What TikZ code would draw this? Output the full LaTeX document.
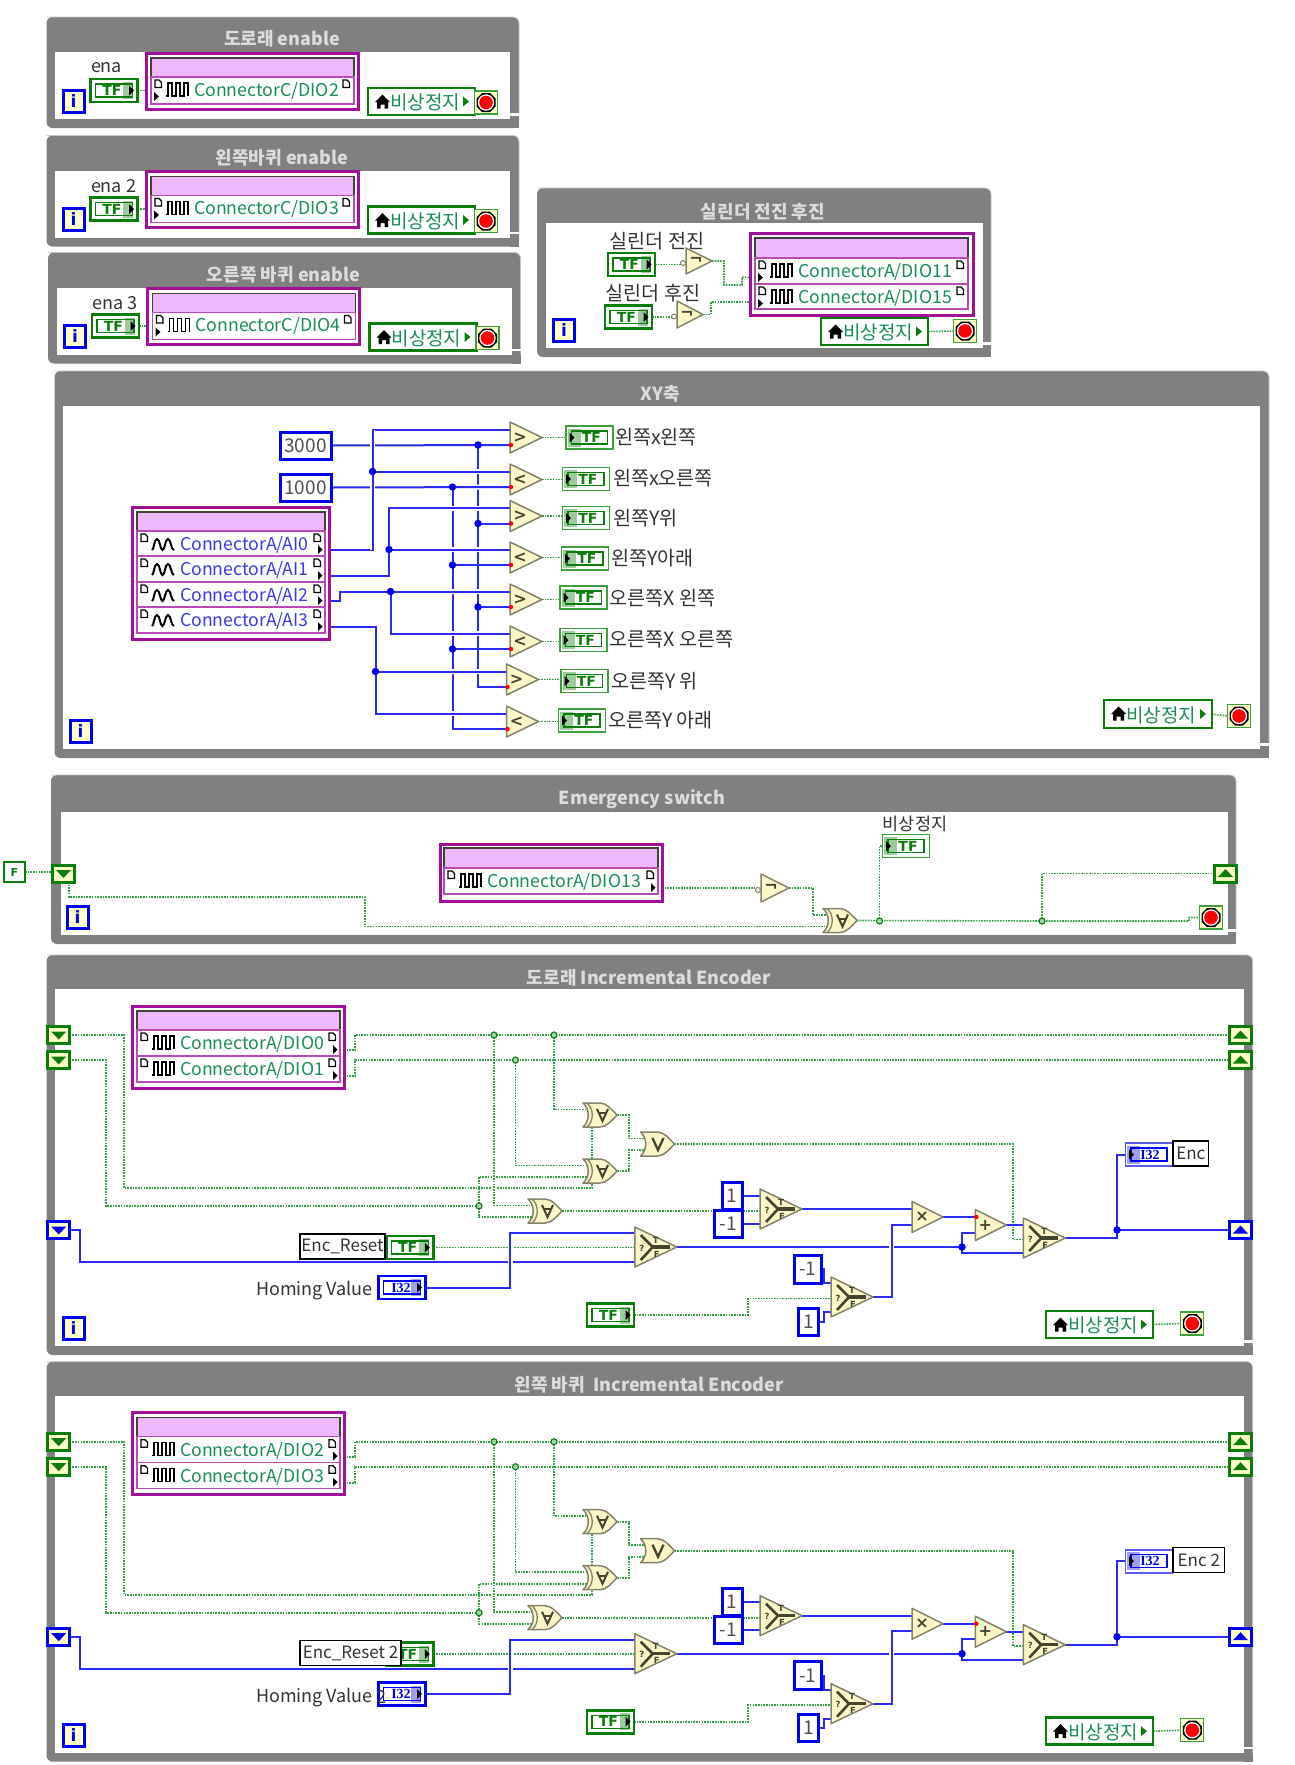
\documentclass[tikz,border=0pt]{standalone}
\usepackage{fontspec}
\setmainfont{Noto Sans CJK KR}
\newfontfamily\boldf{DejaVu Sans}
\newfontfamily\serff{Liberation Serif}
\pgfdeclarelayer{bg}\pgfdeclarelayer{wire}\pgfsetlayers{bg,wire,main}
\definecolor{framegray}{HTML}{808080}
\definecolor{framelight}{HTML}{C4C4C4}
\definecolor{ttlc}{HTML}{DCDCDC}
\definecolor{wireb}{HTML}{2A2AF0}
\definecolor{wireg}{HTML}{35A045}
\definecolor{tfg}{HTML}{0A7D0A}
\definecolor{tfl}{HTML}{3F9F3F}
\definecolor{tfs}{HTML}{9CCB9C}
\definecolor{ibl}{HTML}{0000F0}
\definecolor{ibs}{HTML}{A0A0F0}
\definecolor{paley}{HTML}{FFFFC8}
\definecolor{gatef}{HTML}{FBF6C8}
\definecolor{gatee}{HTML}{85826A}
\definecolor{glyph}{HTML}{45452F}
\definecolor{purp}{HTML}{A0109A}
\definecolor{purl}{HTML}{B84AB8}
\definecolor{pink}{HTML}{EFB8FC}
\definecolor{digt}{HTML}{1A8C5A}
\definecolor{anat}{HTML}{3A3AE6}
\definecolor{cstt}{HTML}{505050}
\newcommand\Rb[2][-1.5pt]{\raisebox{#1}{#2}}
\tikzset{
 wb/.style={draw=wireb,line width=2pt},
 wg/.style={draw=wireg,line width=1.6pt,dash pattern=on 1.6pt off 1.1pt},
 halo/.style={preaction={draw=white,line width=#1,solid}},
 bx/.style={inner sep=0pt,outer sep=0pt,align=center},
 ttl/.style={bx,yshift=-1pt,text=ttlc,font=\bfseries\fontsize{18}{20}\selectfont},
 lab/.style={bx,yshift=-1.5pt,text=black!80,font=\fontsize{18}{20}\selectfont},
 klab/.style={bx,yshift=-1.5pt,text=black!80,font=\fontsize{19.6}{21}\selectfont},
 tfout/.style={bx,draw=tfg,fill=white,line width=2.6pt,minimum width=47pt,minimum height=23pt},
 tfind/.style={bx,draw=tfl,fill=white,line width=1.6pt,minimum width=47pt,minimum height=23pt},
 iout/.style={bx,draw=ibl,fill=white,line width=2.6pt,minimum width=47pt,minimum height=23pt},
 iind/.style={bx,draw=ibl!65,fill=white,line width=1.6pt,minimum width=47pt,minimum height=23pt},
 tftxt/.style={bx,text=tfg,font=\boldf\bfseries\fontsize{14}{14}\selectfont},
 itxt/.style={bx,text=ibl,font=\serff\bfseries\fontsize{14}{14}\selectfont},
 cstbox/.style={bx,draw=ibl,fill=white,line width=3pt,text=cstt,font=\fontsize{19}{20}\selectfont},
 iterm/.style={bx,draw=ibl,fill=paley,line width=3pt,minimum width=21pt,minimum height=22pt,text=ibl,font=\boldf\bfseries\fontsize{17}{17}\selectfont},
 namebox/.style={bx,draw=black,fill=white,line width=1.4pt,text=black!80,font=\fontsize{17}{19}\selectfont},
 gate/.style={draw=gatee,fill=gatef,line width=1.5pt,line join=round},
 gl/.style={draw=glyph,line width=2pt},
 sym/.style={bx,text=glyph,font=\boldf\bfseries\fontsize{16}{16}\selectfont},
 tiny/.style={bx,text=glyph,font=\boldf\bfseries\fontsize{8.5}{8.5}\selectfont},
 jb/.style={circle,fill=ibl,inner sep=0pt,outer sep=0pt,minimum size=7.5pt},
 jg/.style={circle,draw=tfg,fill=wireg!45,line width=1.1pt,inner sep=0pt,outer sep=0pt,minimum size=6pt},
 redp/.style={circle,fill=red,inner sep=0pt,outer sep=0pt,minimum size=4.5pt},
 purbox/.style={bx,draw=purp,fill=white,line width=3pt},
 hdr/.style={bx,draw=black!75,fill=pink,line width=1.2pt},
 rowb/.style={bx,draw=purl,fill=white,line width=1.2pt},
 stopc/.style={bx,draw=tfg,fill=white,line width=2.8pt,text=digt,font=\fontsize{18.5}{20}\selectfont},
 stopi/.style={bx,draw=tfl,fill=paley,line width=1.3pt,minimum width=23pt,minimum height=23pt},
 srb/.style={bx,fill=paley,line width=3pt,minimum width=22pt,minimum height=17pt},
}
% box given by corners
\newcommand\Bx[7]{\node[#1,minimum width={#5-#3},minimum height={#6-#4}] (#2) at ({(#3+#5)/2},{(#4+#6)/2}) {#7};}
\newcommand\Fr[8]{\begin{pgfonlayer}{bg}
 \fill[framegray,rounded corners=6pt] (#1,#2) rectangle (#3,#4);
 \fill[framegray] ({#3-9},{#4-9}) rectangle (#3,#4);
 \draw[framelight,line width=.8pt,rounded corners=6pt] (#1,#2) -- (#3,#2) -- (#3,{#8-8});
 \fill[white] (#5,#6) rectangle (#7,#8);
 \fill[white] ({#7-3},{#8-6}) rectangle ({#3+1},{#8-3.5});
 \end{pgfonlayer}}
\newcommand\Tfc[3]{\node[tfout] (#1) at (#2,#3) {};
 \begin{scope}[shift={(#2,#3)}]
 \fill[tfs] (9,-8.5) rectangle (19,8.5);
 \draw[tfg,line width=1.3pt] (-18.5,-6.5) rectangle (18.5,6.5);
 \fill[black] (15,-5) -- (20,0) -- (15,5) -- cycle;
 \node[tftxt] (#1t) at (-2,0) {TF};
 \end{scope}}
\newcommand\Tfi[3]{\node[tfind] (#1) at (#2,#3) {};
 \begin{scope}[shift={(#2,#3)}]
 \fill[tfs] (-22,-9) rectangle (-9,9);
 \draw[tfg,line width=1.3pt] (-18,-6.5) rectangle (18,6.5);
 \fill[black] (-20,-5) -- (-15,0) -- (-20,5) -- cycle;
 \node[tftxt] (#1t) at (2,0) {TF};
 \end{scope}}
\newcommand\Icc[3]{\node[iout] (#1) at (#2,#3) {};
 \begin{scope}[shift={(#2,#3)}]
 \fill[ibs] (9,-8.5) rectangle (19,8.5);
 \draw[ibl,line width=1.3pt] (-18.5,-6.5) rectangle (18.5,6.5);
 \fill[black] (15,-5) -- (20,0) -- (15,5) -- cycle;
 \node[itxt] (#1t) at (-1,0) {I32};
 \end{scope}}
\newcommand\Ici[3]{\node[iind] (#1) at (#2,#3) {};
 \begin{scope}[shift={(#2,#3)}]
 \fill[ibs] (-22,-9) rectangle (-9,9);
 \draw[ibl,line width=1.3pt] (-18,-6.5) rectangle (18,6.5);
 \fill[black] (-20,-5) -- (-15,0) -- (-20,5) -- cycle;
 \node[itxt] (#1t) at (1,0) {I32};
 \end{scope}}
\newcommand\Iterm[3]{\node[iterm] (#1) at (#2,#3) {i};}
\newcommand\StopI[3]{\node[stopi] (#1) at (#2,#3) {};
 \begin{scope}[shift={(#2,#3)}]
 \fill[black] (-4,-9.5) -- (4,-9.5) -- (9.5,-4) -- (9.5,4) -- (4,9.5) -- (-4,9.5) -- (-9.5,4) -- (-9.5,-4) -- cycle;
 \fill[white] (0,0) circle (8.2);
 \fill[red] (0,0) circle (6.8);
 \end{scope}}
\newcommand\StopC[5]{\Bx{stopc}{#1}{#2}{#3}{#4}{#5}{}
 \begin{scope}[shift={(#2,#3)}]
 \fill[black] (14.5,6.5) -- (22,14) -- (20,14) -- (20,20.5) -- (16.5,20.5) -- (16.5,16.5) -- (12.5,16.5) -- (12.5,20.5) -- (9,20.5) -- (9,14) -- (7,14) -- cycle;
 \node[bx,text=digt,font=\fontsize{19}{20}\selectfont] (#1t) at (57,{(#5-#3)/2+1}) {비상정지};
 \fill[tfg] ({#4-#2-12},{(#5-#3)/2-5}) -- ({#4-#2-6},{(#5-#3)/2}) -- ({#4-#2-12},{(#5-#3)/2+5}) -- cycle;
 \end{scope}}
\newcommand\Sr[5]{\node[srb,draw=#4] (#1) at (#2,#3) {};
 \begin{scope}[shift={(#2,#3)}]
 \ifnum#5=0 \fill[#4] (-7.5,-3.5) -- (7.5,-3.5) -- (0,4.5) -- cycle;
 \else \fill[#4] (-7.5,3.5) -- (7.5,3.5) -- (0,-4.5) -- cycle; \fi
 \end{scope}}
% row: name x1 y1 x2 y2 kind(0 digital,1 analog) text side(0 left,1 right)
\newcommand\DqRow[8]{\Bx{rowb}{#1}{#2}{#3}{#4}{#5}{}
 \begin{scope}[shift={(#2,#3)}]
 \draw[black,fill=white,line width=1.2pt] (4,3) -- (8,3) -- (10.5,5.5) -- (10.5,10.5) -- (4,10.5) -- cycle;
 \ifnum#6=0
  \draw[black,line width=1.2pt] (15,19) -- (17,19) -- (17,6) -- (21,6) -- (21,19) -- (25,19) -- (25,6) -- (29,6) -- (29,19) -- (33,19) -- (33,6) -- (37,6) -- (37,19);
  \node[bx,anchor=west,text=digt,font=\fontsize{17.7}{20}\selectfont] (#1t) at (43,14) {#7};
 \else
  \draw[black,line width=2pt] (15,19) .. controls (17,19) and (17,8) .. (20,8) .. controls (23,8) and (23,19) .. (25.5,19) .. controls (28,19) and (28,8) .. (31,8) .. controls (34,8) and (34,19) .. (37,19);
  \node[bx,anchor=west,text=anat,font=\fontsize{17.7}{20}\selectfont] (#1t) at (43,14) {#7};
 \fi
 \draw[black,fill=white,line width=1.2pt] ({#4-#2-11},3) -- ({#4-#2-7},3) -- ({#4-#2-4.5},5.5) -- ({#4-#2-4.5},10.5) -- ({#4-#2-11},10.5) -- cycle;
 \ifnum#8=0
  \fill[black] (3,15) -- (8,19.5) -- (3,24) -- cycle;
  \coordinate (#1o) at (-5,{#5-#3-6.5});
 \else
  \fill[black] ({#4-#2-7},{#5-#3-11}) -- ({#4-#2-2.5},{#5-#3-6.5}) -- ({#4-#2-7},{#5-#3-2}) -- cycle;
  \coordinate (#1o) at ({#4-#2+4},{#5-#3-6});
 \fi
 \end{scope}}
% triangle: name cx cy w h symbol
\newcommand\Tri[6]{\node[bx,minimum width=#4,minimum height=#5] (#1) at (#2,#3) {};
 \begin{scope}[shift={(#2,#3)}]
 \draw[gate] ({-#4/2},{-#5/2}) -- ({#4/2},0) -- ({-#4/2},{#5/2}) -- cycle;
 \node[sym] (#1t) at ({-#4/2+10},0) {#6};
 \coordinate (#1a) at ({-#4/2+1},-8);
 \coordinate (#1b) at ({-#4/2+1},7.5);
 \end{scope}}
\newcommand\RedP[2]{\node[redp] (#1) at (#2) {};}
% not: name cx cy w h
\newcommand\NotG[5]{\Tri{#1}{#2}{#3}{#4}{#5}{¬}
 \node[circle,draw=gatee,fill=white,line width=1pt,inner sep=0pt,outer sep=0pt,minimum size=5pt] (#1c) at ({#2-#4/2-3},{#3+2}) {};}
% or-gate: name cx cy xor
\newcommand\OrG[4]{\node[bx,minimum width=34pt,minimum height=24pt] (#1) at (#2,#3) {};
 \begin{scope}[shift={(#2,#3)}]
 \draw[gate] (-17,-12) -- (0,-12) .. controls (7,-12) and (12,-5) .. (17,0) .. controls (12,5) and (7,12) .. (0,12) -- (-17,12) .. controls (-10,6) and (-10,-6) .. (-17,-12) -- cycle;
 \ifnum#4=1
 \draw[gatee,line width=1.3pt] (-13,-12) .. controls (-6,-6) and (-6,6) .. (-13,12);
 \draw[gl] (-3,-6) -- (2.5,6) -- (8,-6);
 \draw[gl] (-1,-2) -- (6,-2);
 \else
 \draw[gl,line width=2.3pt] (-5,-6) -- (0.5,6) -- (6,-6);
 \fi
 \coordinate (#1a) at (-12,-5.5);
 \coordinate (#1b) at (-12,6);
 \coordinate (#1o) at (17,0);
 \end{scope}}
% select
\newcommand\Sel[3]{\node[bx,minimum width=42pt,minimum height=40pt] (#1) at (#2,#3) {};
 \begin{scope}[shift={(#2,#3)}]
 \draw[gate] (-21,-20) -- (21,0) -- (-21,20) -- cycle;
 \draw[gl,line width=2.6pt] (-15,-12) -- (-3,0) -- (-15,13);
 \draw[gl,line width=3.2pt] (-3,0) -- (14,0);
 \node[tiny] (#1p) at (-14,1) {?};
 \node[tiny] (#1u) at (0,-7) {T};
 \node[tiny] (#1v) at (1,7) {F};
 \coordinate (#1t) at (-20,-14);
 \coordinate (#1q) at (-20,1.5);
 \coordinate (#1f) at (-20,15);
 \end{scope}}
% enable panel
\newcommand\EnPanel[6]{\begin{scope}[shift={(#2,#3)}]
 \Fr{46.5}{17}{519}{128}{55}{52}{510}{119}
 \node[ttl] (#1ttl) at (282,38) {#4};
 \node[lab,anchor=west] (#1lab) at (91,66) {#5};
 \Tfc{#1tf}{114}{90.5}
 \Iterm{#1i}{73.5}{101}
 \Bx{purbox}{#1q}{146}{53}{358}{109}{}
 \Bx{hdr}{#1h}{151}{58}{354}{77}{}
 \DqRow{#1r}{151}{77}{354}{104}{0}{#6}{0}
 \StopC{#1sc}{368}{88}{475}{115}
 \StopI{#1si}{486}{102.5}
 \begin{pgfonlayer}{wire}
 \draw[wg] (#1tf.east) -- (#1tf.east -| #1ro);
 \end{pgfonlayer}
 \end{scope}}
% encoder panel
\newcommand\Encoder[9]{\begin{scope}[shift={(0,#2)}]
 \Fr{46.6}{955}{1252.6}{1355}{55}{989}{1243.6}{1346}
 \node[ttl] (#1ttl) at (649,977) {#3};
 \Sr{#1a}{58.7}{1035}{tfg}{0}
 \Sr{#1b}{58.7}{1060}{tfg}{0}
 \Sr{#1c}{58.7}{1230}{ibl}{0}
 \Sr{#1x}{1240.5}{1035}{tfg}{1}
 \Sr{#1y}{1240.5}{1060}{tfg}{1}
 \Sr{#1z}{1240.5}{1230}{ibl}{1}
 \Bx{purbox}{#1q}{132}{1006}{344}{1088}{}
 \Bx{hdr}{#1h}{137}{1011}{340}{1030}{}
 \DqRow{#1r0}{137}{1030}{340}{1056}{0}{#4}{1}
 \DqRow{#1r1}{137}{1056}{340}{1082}{0}{#5}{1}
 \OrG{#1g1}{600}{1115}{1}
 \OrG{#1g2}{600}{1171}{1}
 \OrG{#1g3}{545}{1211}{1}
 \OrG{#1g4}{657.5}{1144}{0}
 \node[jg] (#1j1) at (554,1035) {};
 \node[jg] (#1j2) at (494,1035) {};
 \node[jg] (#1j3) at (515.5,1060) {};
 \node[jg] (#1j4) at (479,1206) {};
 \Tfc{#1tr}{409.75}{1247.5}
 \Bx{namebox}{#1nr}{300}{1234}{#7}{1259}{\Rb{#6}}
 \node[lab,anchor=west] (#1hv) at (256,1289) {#8};
 \Sel{#1s0}{655.75}{1247}
 \Sel{#1s1}{781}{1209}
 \Sel{#1s2}{852}{1297}
 \Sel{#1s3}{1044.25}{1238}
 \Bx{cstbox}{#1k1}{722}{1182}{742}{1209}{\Rb{1}}
 \Bx{cstbox}{#1k2}{714.6}{1210}{742}{1237}{\Rb{-1}}
 \Bx{cstbox}{#1k3}{794}{1255}{821.5}{1283}{\Rb{-1}}
 \Bx{cstbox}{#1k4}{798}{1308}{818.6}{1335}{\Rb{1}}
 \Tfc{#1tc}{610.5}{1315}
 \Tri{#1m}{927.5}{1217}{31}{31}{×}
 \Tri{#1p}{990.8}{1225}{31}{31}{+}
 \RedP{#1pr}{#1pa}
 \node[jb] (#1j5) at (962,1247) {};
 \node[jb] (#1j6) at (1117,1230) {};
 \Ici{#1ei}{1149}{1154.5}
 \Bx{namebox}{#1en}{1173}{1141}{\encx}{1166}{\Rb{#9}}
 \StopC{#1sc}{1046}{1311}{1153}{1338}
 \StopI{#1si}{1192.3}{1323.5}
 \Iterm{#1i}{73.5}{1328.5}
 \begin{pgfonlayer}{wire}
 \draw[wg] (#1a.east) -| (124,1188) -- (592,1188) |- (#1g1b);
 \draw[wg] (#1b.east) -| (106,1206) -- (#1j4.center);
 \draw[wg] (#1j4.center) |- (#1g2b);
 \draw[wg] (#1j4.center) |- (#1g3b);
 \draw[wg] (#1r0o) -- (355,1050) -- (355,1035) -- (#1j2.center) -- (#1j1.center) -- (#1x.west);
 \draw[wg] (#1r1o) -- (355,1076) -- (355,1060) -- (#1j3.center) -- (#1y.west);
 \draw[wg] (#1j1.center) |- (#1g1a);
 \draw[wg] (#1j3.center) |- (#1g2a);
 \draw[wg,halo=4pt] (#1j2.center) |- (#1g3a);
 \draw[wg] (#1g1o) -| (629,1138.5) -- (#1g4a);
 \draw[wg] (#1g2o) -| (629,1150) -- (#1g4b);
 \draw[wg] (#1g4o) -| (1013,1239.5) -- (#1s3q);
 \draw[wg] (#1g3o) -- (#1g3o -| #1s1q);
 \draw[wg] (#1tr.east) -- (#1tr.east -| #1s0q);
 \draw[wg] (#1tc.east) -| (748,1298.5) -- (#1s2q);
 \draw[wg] (#1sc.east) -- (#1si.west);
 \draw[wb] (#1c.east) -| (80,1262) -- (#1s0f);
 \end{pgfonlayer}
 \Hom{#1}
 \begin{pgfonlayer}{wire}
 \draw[wb,halo=5pt] (#1ic.east) -| (510,1233) -- (#1s0t);
 \draw[wb] (#1s0.east) -- (#1j5.center);
 \draw[wb] (#1j5.center) |- (#1pb);
 \draw[wb] (#1j5.center) |- (#1s3f);
 \draw[wb] (#1k1.east) -- (#1k1.east -| #1s1t);
 \draw[wb] (#1k2.east) -- (#1k2.east -| #1s1f);
 \draw[wb] (#1s1.east) -- (#1s1.east -| #1ma);
 \draw[wb] (#1m.east) -- (#1m.east -| #1pa);
 \draw[wb] (#1p.east) -- (#1p.east -| #1s3t);
 \draw[wb] (#1k3.east) -| (824,1283) -- (#1s2t);
 \draw[wb] (#1k4.east) -| (824,1312) -- (#1s2f);
 \draw[wb,halo=5pt] (#1s2.east) -| (891.5,1224.5) -- (#1mb);
 \draw[wb] (#1s3.east) -| (#1j6.center);
 \draw[wb] (#1j6.center) -- (#1z.west);
 \draw[wb] (#1j6.center) |- (#1ei.west);
 \end{pgfonlayer}
 \end{scope}}
\newcommand\Hom[1]{\Icc{#1ic}{402}{1287.5}}
\begin{document}
\begin{tikzpicture}[x=1pt,y=-1pt]
\useasboundingbox (0,0) rectangle (1295,1765);
\begin{pgfonlayer}{bg}\fill[white] (0,0) rectangle (1295,1765);\end{pgfonlayer}
% --- enable panels
\EnPanel{a}{0}{0}{도로래 enable}{ena}{ConnectorC/DIO2}
\EnPanel{b}{0}{118.5}{왼쪽바퀴 enable}{ena 2}{ConnectorC/DIO3}
\EnPanel{c}{1.5}{235.5}{오른쪽 바퀴 enable}{ena 3}{ConnectorC/DIO4}
% --- cylinder
\Fr{537}{188}{991}{357}{546}{223}{983}{348}
\node[ttl] (dttl) at (763,211) {실린더 전진 후진};
\node[klab] (dl1) at (657,240) {실린더 전진};
\node[klab] (dl2) at (653,292) {실린더 후진};
\Tfc{dt1}{631.5}{264.5}
\Tfc{dt2}{628.5}{317}
\NotG{dn1}{699}{261}{26}{26}
\NotG{dn2}{690}{314.5}{26}{27}
\Bx{purbox}{dq}{750}{233}{973}{315}{}
\Bx{hdr}{dh}{755}{238}{968}{258}{}
\DqRow{dr0}{755}{258}{968}{284}{0}{ConnectorA/DIO11}{0}
\DqRow{dr1}{755}{284}{968}{309}{0}{ConnectorA/DIO15}{0}
\StopC{dsc}{821}{318}{928}{345}
\StopI{dsi}{965}{331}
\Iterm{di}{564}{330.5}
\begin{pgfonlayer}{wire}
\draw[wg] (dt1.east) -- (dt1.east -| dn1c);
\draw[wg] (dt2.east) -- (dt2.east -| dn2c);
\draw[wg] (dn1.east) -| (724,285) -- (742,285) -- (742,277) -- (dr0o);
\draw[wg] (dn2.east) -| (711,302) -- (dr1o |- 711,302) -- (dr1o);
\draw[wg] (dsc.east) -- (dsi.west);
\end{pgfonlayer}
% --- XY
\Fr{54.5}{371}{1269}{758}{63}{406}{1260}{749}
\node[ttl] (xttl) at (660,393) {XY축};
\Bx{cstbox}{k3}{280}{432}{331}{459}{\Rb{3000}}
\Bx{cstbox}{k1}{280}{474}{331}{501}{\Rb{1000}}
\Bx{purbox}{xq}{132}{507}{329}{639}{}
\Bx{hdr}{xh}{137}{512}{325}{531}{}
\DqRow{a0}{137}{531}{325}{556}{1}{ConnectorA/AI0}{1}
\DqRow{a1}{137}{556}{325}{582}{1}{ConnectorA/AI1}{1}
\DqRow{a2}{137}{582}{325}{607}{1}{ConnectorA/AI2}{1}
\DqRow{a3}{137}{607}{325}{633}{1}{ConnectorA/AI3}{1}
\Tri{c1}{526}{437.5}{32}{31}{>}\RedP{c1r}{c1b}
\Tri{c2}{526}{479.5}{32}{31}{<}\RedP{c2r}{c2b}
\Tri{c3}{526}{516}{32}{31}{>}\RedP{c3r}{c3b}
\Tri{c4}{526}{557.5}{32}{31}{<}\RedP{c4r}{c4b}
\Tri{c5}{526}{599.5}{32}{31}{>}\RedP{c5r}{c5b}
\Tri{c6}{526}{641.5}{32}{31}{<}\RedP{c6r}{c6b}
\Tri{c7}{522.5}{679.5}{32}{31}{>}\RedP{c7r}{c7b}
\Tri{c8}{522.5}{721.5}{32}{31}{<}\RedP{c8r}{c8b}
\Tfi{i1}{589.5}{437.5}\node[klab,anchor=west] (l1) at (615,436) {왼쪽x왼쪽};
\Tfi{i2}{586}{479}\node[klab,anchor=west] (l2) at (613,477) {왼쪽x오른쪽};
\Tfi{i3}{586}{518}\node[klab,anchor=west] (l3) at (613,517) {왼쪽Y위};
\Tfi{i4}{585}{558.5}\node[klab,anchor=west] (l4) at (611,557) {왼쪽Y아래};
\Tfi{i5}{583.5}{597.5}\node[klab,anchor=west] (l5) at (609.5,597) {오른쪽X 왼쪽};
\Tfi{i6}{583.5}{640}\node[klab,anchor=west] (l6) at (609.5,638) {오른쪽X 오른쪽};
\Tfi{i7}{584.5}{681}\node[klab,anchor=west] (l7) at (611,680) {오른쪽Y 위};
\Tfi{i8}{582}{720.5}\node[klab,anchor=west] (l8) at (608,719) {오른쪽Y 아래};
\node[jb] (x1) at (372.5,471.5) {};
\node[jb] (x2) at (389,549.5) {};
\node[jb] (x3) at (390.5,591.5) {};
\node[jb] (x4) at (375.5,671.5) {};
\node[jb] (x5) at (478,445) {};
\node[jb] (x6) at (478,523.5) {};
\node[jb] (x7) at (478,607) {};
\node[jb] (x8) at (452.5,487) {};
\node[jb] (x9) at (452.5,565) {};
\node[jb] (x10) at (452.5,649) {};
\StopC{xsc}{1104}{700}{1212}{728}
\StopI{xsi}{1239}{716}
\Iterm{xi}{80.5}{731}
\begin{pgfonlayer}{wire}
\draw[wb] (x5.center) -- (478,687) -- (c7b);
\draw[wb] (x8.center) -- (452.5,729) -- (c8b);
\draw[wb,halo=5pt] (k3.east) -- (c1b);
\draw[wb,halo=5pt] (k1.east) -- (c2b);
\draw[wb] (x6.center) -- (c3b);
\draw[wb] (x7.center) -- (c5b);
\draw[wb] (x9.center) -- (c4b);
\draw[wb] (x10.center) -- (c6b);
\draw[wb,halo=5pt] (a0o) -| (372.5,429.5) -- (c1a);
\draw[wb,halo=5pt] (x1.center) -- (c2a);
\draw[wb,halo=5pt] (a1o) -| (389,508) -- (c3a);
\draw[wb,halo=5pt] (x2.center) -- (c4a);
\draw[wb,halo=5pt] (a2o) -| (339.5,591.5) -- (c5a);
\draw[wb,halo=5pt] (x3.center) -- (390.5,633.5) -- (c6a);
\draw[wb,halo=5pt] (a3o) -| (375.5,713.5) -- (c8a);
\draw[wb,halo=5pt] (x4.center) -- (c7a);
\draw[wb,halo=5pt] (372.5,550) -- (372.5,429.5);
\draw[wg] (c1.east) -- (c1.east -| i1.west);
\draw[wg] (c2.east) -- (c2.east -| i2.west);
\draw[wg] (c3.east) -- (c3.east -| i3.west);
\draw[wg] (c4.east) -- (c4.east -| i4.west);
\draw[wg] (c5.east) -- (c5.east -| i5.west);
\draw[wg] (c6.east) -- (c6.east -| i6.west);
\draw[wg] (c7.east) -- (c7.east -| i7.west);
\draw[wg] (c8.east) -- (c8.east -| i8.west);
\draw[wg] (xsc.east) -- (xsi.west);
\end{pgfonlayer}
% --- Emergency
\Fr{51}{775}{1236}{944}{61}{812}{1228}{935}
\node[ttl] (ettl) at (642,798) {Emergency switch};
\Bx{bx,draw=tfg,fill=white,line width=2pt,text=tfg,font=\boldf\bfseries\fontsize{11}{11}\selectfont}{ef}{4}{862}{25}{882}{F}
\Sr{es1}{63.5}{873.5}{tfg}{0}
\Sr{es2}{1225.5}{873.5}{tfg}{1}
\Iterm{ei}{77.5}{917}
\Bx{purbox}{eq}{440}{844}{662}{901}{}
\Bx{hdr}{eh}{444}{848}{658}{868}{}
\DqRow{er}{444}{868}{658}{894}{0}{ConnectorA/DIO13}{1}
\NotG{en}{775}{888}{28}{28}
\OrG{eg}{840}{920.5}{1}
\node[jg] (ej1) at (879.5,921) {};
\node[jg] (ej2) at (1042,921) {};
\node[lab,font=\fontsize{17.5}{19}\selectfont] (el) at (915,822) {비상정지};
\Tfi{eind}{906}{846}
\StopI{esi}{1211}{917.5}
\begin{pgfonlayer}{wire}
\draw[wg] (ef.east) -- (ef.east -| es1.west);
\draw[wg] (es1.south -| 69,0) |- (365,897) |- (egb);
\draw[wg] (ero) -- (ero -| enc);
\draw[wg] (en.east) -| (813,915) -- (ega);
\draw[wg] (ego) -- (ej2.center) -- (1189,921) -- (1189,917.5) -- (esi.west);
\draw[wg] (ej1.center) |- (eind.west);
\draw[wg] (ej2.center) |- (es2.west);
\end{pgfonlayer}
% --- encoders
\def\encx{1208.6}
\Encoder{p}{0}{도로래 Incremental Encoder}{ConnectorA/DIO0}{ConnectorA/DIO1}{Enc\_Reset}{385}{Homing Value}{Enc}
\def\encx{1224.6}
\renewcommand\Hom[1]{\Icc{#1ic}{402}{1287.5}\node[lab] (#1h2) at (381,1289) {2};}
\Encoder{r}{406.7}{왼쪽 바퀴\ \ Incremental Encoder}{ConnectorA/DIO2}{ConnectorA/DIO3}{Enc\_Reset 2}{401}{Homing Value}{Enc 2}
\end{tikzpicture}
\end{document}
